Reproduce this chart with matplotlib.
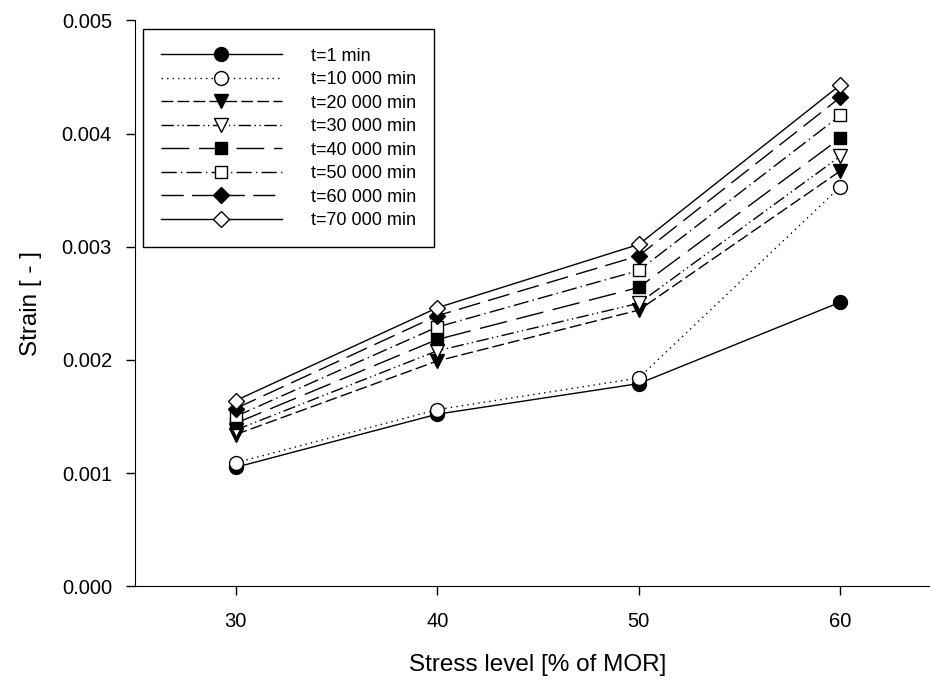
import matplotlib
matplotlib.use("Agg")
import matplotlib.pyplot as plt

plt.rcParams['font.family'] = ['Liberation Sans', 'DejaVu Sans']
plt.rcParams['lines.scale_dashes'] = False

stress = [30, 40, 50, 60]
labels = ["t=1 min", "t=10 000 min", "t=20 000 min", "t=30 000 min",
          "t=40 000 min", "t=50 000 min", "t=60 000 min", "t=70 000 min"]
t1 = [0.00105, 0.00152, 0.00179, 0.00251]
t10k = [0.00109, 0.00156, 0.00184, 0.00353]
t20k = [0.00134, 0.00199, 0.00244, 0.00367]
t30k = [0.00138, 0.00208, 0.00250, 0.00380]
t40k = [0.00144, 0.00218, 0.00264, 0.00396]
t50k = [0.00150, 0.00229, 0.00279, 0.00416]
t60k = [0.00157, 0.00239, 0.00292, 0.00432]
t70k = [0.00164, 0.00246, 0.00302, 0.00443]
series = [t1, t10k, t20k, t30k, t40k, t50k, t60k, t70k]

styles = [
    dict(ls='-', marker='o', mfc='black', ms=10),
    dict(ls=(0, (1, 3)), marker='o', mfc='white', ms=10),
    dict(ls=(0, (8.5, 3)), marker='v', mfc='black', ms=10),
    dict(ls=(0, (9, 2.5, 1, 2.5, 1, 2.5)), marker='v', mfc='white', ms=10),
    dict(ls=(0, (20, 7)), marker='s', mfc='black', ms=8),
    dict(ls=(0, (11, 3, 1, 3)), marker='s', mfc='white', ms=8),
    dict(ls=(0, (16, 6)), marker='D', mfc='black', ms=8.5),
    dict(ls='-', marker='D', mfc='white', ms=8.5),
]

fig = plt.figure(figsize=(9.3, 6.8), dpi=100)
ax = fig.add_axes([0.145, 0.138, 0.867, 0.832])

for vals, lab, st in zip(series, labels, styles):
    ax.plot(stress, vals, color='black', lw=1.0, linestyle=st['ls'],
            marker=st['marker'], markersize=st['ms'], markerfacecolor=st['mfc'],
            markeredgecolor='black', markeredgewidth=1.0, label=lab)

ax.set_xlim(25, 65)
ax.set_ylim(0, 0.005)
ax.set_xticks(stress)
ax.set_yticks([0, 0.001, 0.002, 0.003, 0.004, 0.005])
ax.set_yticklabels(["0.000", "0.001", "0.002", "0.003", "0.004", "0.005"])
ax.spines['top'].set_visible(False)
ax.spines['right'].set_visible(False)
ax.tick_params(direction='out', length=6.5, width=1, labelsize=14.5)
ax.tick_params(axis='x', pad=12)
ax.tick_params(axis='y', pad=10)
ax.set_xlabel("Stress level [% of MOR]", fontsize=17.5, labelpad=17)
ax.set_ylabel("Strain [ - ]", fontsize=17.5, labelpad=14)

leg = ax.legend(loc='upper left', bbox_to_anchor=(0.01, 0.984), numpoints=1,
                handlelength=6.7, handletextpad=1.6, fontsize=13,
                labelspacing=0.36, fancybox=False, edgecolor='black',
                framealpha=1, borderpad=1.0, borderaxespad=0)
leg.get_frame().set_linewidth(1.0)

fig.savefig("out.png", dpi=100)
